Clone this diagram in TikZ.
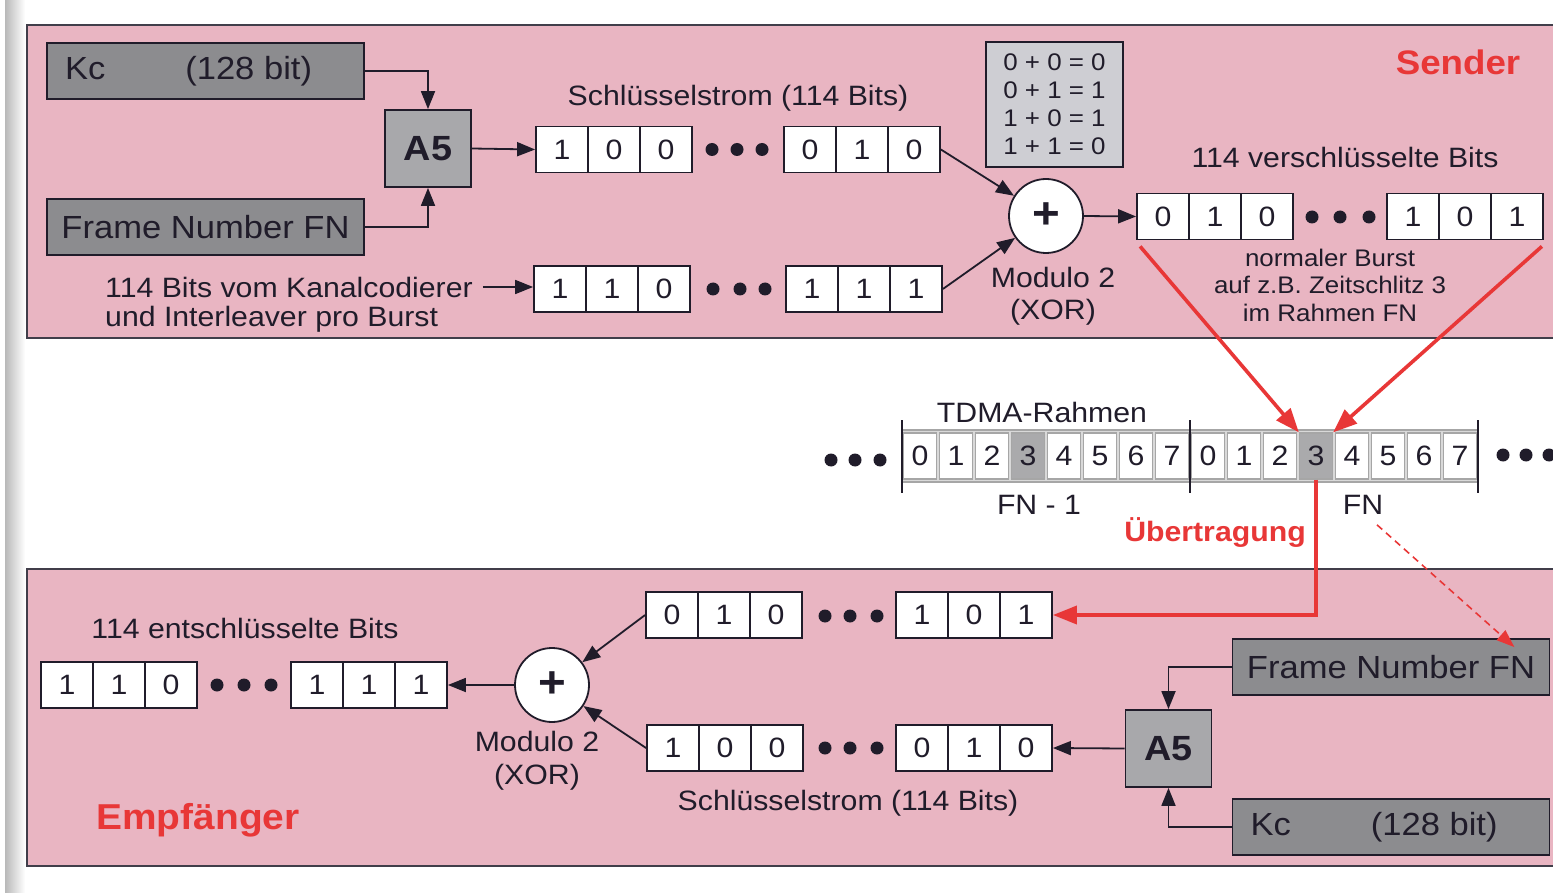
\documentclass[tikz,border=0pt]{standalone}
\usepackage{fontspec}
\setmainfont[FakeStretch=1.08]{Liberation Sans}
\usetikzlibrary{arrows.meta,calc}
\definecolor{pinkbg}{RGB}{233,181,194}
\definecolor{ink}{RGB}{32,28,42}
\definecolor{darkbox}{RGB}{140,140,143}
\definecolor{a5fill}{RGB}{168,168,171}
\definecolor{tabfill}{RGB}{206,206,211}
\definecolor{redc}{RGB}{232,55,55}
\definecolor{slotgray}{RGB}{170,170,172}
\newcommand\fs[1]{\fontsize{#1}{#1}\selectfont}
\newcommand\bitcells[5]{%
  \foreach \d [count=\i from #2] in {#5}{%
    \node[cell] (#1\i) at ({#3+(\i-#2+0.5)*52},#4) {\d};}}
\newcommand\threedots[4]{%
  \foreach \xx in {#1,#2,#3} \fill[ink] (\xx,#4) circle (6.5pt);}
\tikzset{
  cell/.style={draw=ink,line width=1.8pt,fill=white,minimum width=52pt,
    minimum height=46pt,inner sep=0pt,text=ink,font=\fs{28}},
  txt/.style={text=ink,font=\fs{28},inner sep=0pt},
  small/.style={text=ink,font=\fs{24},inner sep=0pt,align=center},
  graybox/.style={draw=ink,line width=1.8pt,fill=darkbox,minimum width=317pt,
    minimum height=56pt,inner sep=0pt,text=ink,font=\fs{32}},
  a5box/.style={draw=ink,line width=1.8pt,fill=a5fill,minimum width=86pt,
    minimum height=77pt,inner sep=0pt,text=ink,font=\fs{35}\bfseries},
  xorc/.style={circle,draw=ink,line width=1.8pt,fill=white,minimum size=74pt,
    inner sep=0pt,text=ink,font=\fs{44}\bfseries},
  arr/.style={draw=ink,line width=1.8pt,-{Triangle[length=18pt,width=14pt]}},
  redarr/.style={draw=redc,line width=3.6pt,-{Triangle[length=24pt,width=18pt]}},
  slot/.style={draw=gray!70,line width=1.2pt,fill=white,minimum width=33pt,
    minimum height=46pt,inner sep=0pt,text=ink,font=\fs{28}},
  redlabel/.style={text=redc,font=\fs{34}\bfseries,inner sep=0pt},
  panel/.style={fill=pinkbg,draw=ink!85,line width=2pt}
}
\begin{document}
\begin{tikzpicture}[x=1pt,y=-1pt]
\useasboundingbox (0,0) rectangle (1553,893);
\fill[white] (0,0) rectangle (1553,893);
\shade[left color=gray!55,right color=white] (5,0) rectangle (25,893);
% panels
\draw[panel] (1570,25) -- (27,25) -- (27,338) -- (1570,338);
\draw[panel] (1570,569) -- (27,569) -- (27,866) -- (1570,866);

% ===== Sender =====
\node[graybox] (kc1) at (205.5,71) {\makebox[281pt][l]{Kc\hspace{80pt}(128 bit)}};
\node[graybox] (fn1) at (205.5,227) {Frame Number FN};
\node[a5box] (a51) at (428,148.5) {A5};
\draw[arr] (kc1.east) -| (a51.north);
\draw[arr] (fn1.east) -| (a51.south);

\bitcells{ks}{1}{536}{149.5}{1,0,0}
\bitcells{ks}{4}{784}{149.5}{0,1,0}
\threedots{712}{737}{762}{149.5}
\node[txt] (kslab) at (738,98) {Schlüsselstrom (114 Bits)};
\draw[arr] (a51.east) -- (ks1.west);

\bitcells{in}{1}{534}{289}{1,1,0}
\bitcells{in}{4}{786}{289}{1,1,1}
\threedots{713}{740}{765}{289}
\node[txt,anchor=west] (inlab1) at (105,287) {114 Bits vom Kanalcodierer};
\node[txt,anchor=west] (inlab2) at (105,319) {und Interleaver pro Burst};
\draw[arr] ([xshift=10pt]inlab1.east) -- (inlab1.east -| in1.west);

\node[draw=ink,line width=1.8pt,fill=tabfill,minimum width=137pt,minimum height=125pt,
  inner sep=0pt,text=ink,font=\fontsize{24}{28}\selectfont,align=center] (tab) at (1054.5,104.5)
  {0 + 0 = 0\\0 + 1 = 1\\1 + 0 = 1\\1 + 1 = 0};

\node[xorc] (xor1) at (1046,216) {+};
\draw[arr] (ks6.east) -- (xor1);
\draw[arr] (in6.east) -- (xor1);
\node[txt,align=center,font=\fontsize{28}{32}\selectfont] (mod1) at (1053,296) {Modulo 2\\(XOR)};

\bitcells{ob}{1}{1137}{216.5}{0,1,0}
\bitcells{ob}{4}{1387}{216.5}{1,0,1}
\threedots{1312}{1340}{1369}{217}
\draw[arr] (xor1.east) -- (ob1.west);
\node[txt] (oblab) at (1345,157) {114 verschlüsselte Bits};
\node[small,font=\fontsize{24}{27.5}\selectfont] (burst) at (1330,285)
  {normaler Burst\\auf z.B. Zeitschlitz 3\\im Rahmen FN};
\node[redlabel] (sender) at (1458,62) {Sender};

% ===== TDMA =====
\node[txt] (tdmalab) at (1042,412) {TDMA-Rahmen};
\fill[gray!30] (902,430) rectangle (1478,482);
\foreach \k in {0,...,7}{
  \node[slot] (ta\k) at ({902+18+36*\k},456) {\k};
  \node[slot] (tb\k) at ({1190+18+36*\k},456) {\k};
}
\node[slot,fill=slotgray] at (ta3) {3};
\node[slot,fill=slotgray] (tb3x) at (tb3) {3};
\draw[gray!70,line width=1.2pt] (902,430) -- (1478,430) (902,482) -- (1478,482);
\foreach \xx in {902,1190,1478} \draw[ink,line width=1.8pt] (\xx,420) -- (\xx,493);
\threedots{831}{855}{880}{460}
\threedots{1503}{1526}{1549}{455}
\node[txt] (fnm1) at (1039,505) {FN - 1};
\node[txt] (fnlab) at (1363,505) {FN};
\node[redlabel,font=\fs{28}\bfseries] (uebert) at (1215,533) {Übertragung};

\draw[redarr] ([xshift=4pt,yshift=-6pt]ob1.south west) -- (tb3.north west);
\draw[redarr] ([xshift=-2pt,yshift=-6pt]ob6.south east) -- (tb3.north east);

% ===== Empfaenger =====
\bitcells{rx}{1}{646}{615}{0,1,0}
\bitcells{rx}{4}{896}{615}{1,0,1}
\threedots{825}{850}{877}{616}
\bitcells{rk}{1}{647}{748}{1,0,0}
\bitcells{rk}{4}{896}{748}{0,1,0}
\threedots{825}{850}{877}{748}
\node[txt] (rklab) at (848,803) {Schlüsselstrom (114 Bits)};

\draw[redarr] (tb3.south) |- (rx6.east);
\coordinate (dstart) at ([xshift=14pt,yshift=-10pt]fnlab.south);

\node[graybox] (rfn) at (1391,667) {Frame Number FN};
\node[graybox] (rkc) at (1391,827) {\makebox[281pt][l]{Kc\hspace{80pt}(128 bit)}};
\node[a5box] (ra5) at (1168.5,748.5) {A5};
\draw[arr] (rfn.west) -| (ra5.north);
\draw[arr] (rkc.west) -| (ra5.south);
\draw[arr] (ra5.west) -- (rk6.east);
\draw[draw=redc,line width=1.6pt,dashed,dash pattern=on 7pt off 5pt,
  -{Triangle[length=18pt,width=13pt]}] (dstart) -- ([xshift=-36pt,yshift=-9pt]rfn.north east);

\node[xorc] (xor2) at (552,685) {+};
\draw[arr] (rx1.west) -- (xor2);
\draw[arr] (rk1.west) -- (xor2);
\bitcells{ro}{1}{41}{685}{1,1,0}
\bitcells{ro}{4}{291}{685}{1,1,1}
\threedots{217}{244}{271}{685}
\draw[arr] (xor2.west) -- (ro6.east);
\node[txt] (rolab) at (245,628) {114 entschlüsselte Bits};
\node[txt,align=center,font=\fontsize{28}{33}\selectfont] (mod2) at (537,760.5) {Modulo 2\\(XOR)};
\node[redlabel,font=\fs{36}\bfseries] (empf) at (198,820) {Empfänger};
\end{tikzpicture}
\end{document}
